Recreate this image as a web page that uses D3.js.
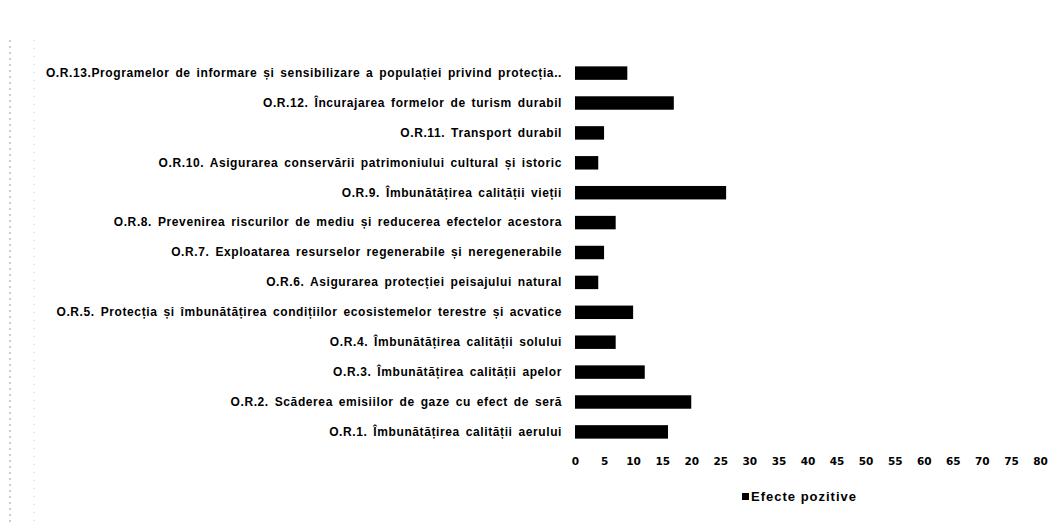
<!DOCTYPE html>
<html>
<head>
<meta charset="utf-8">
<script src="https://cdn.jsdelivr.net/npm/d3@7"></script>
<style>
  body { margin: 0; background: #fff; }
</style>
</head>
<body>
<div id="my_dataviz"></div>
<script>
var categories = [
    "O.R.13.Programelor de informare și sensibilizare a populației privind protecția..",
    "O.R.12. Încurajarea formelor de turism durabil",
    "O.R.11. Transport durabil",
    "O.R.10. Asigurarea conservării patrimoniului cultural și istoric",
    "O.R.9. Îmbunătățirea calității vieții",
    "O.R.8. Prevenirea riscurilor de mediu și reducerea efectelor acestora",
    "O.R.7. Exploatarea resurselor regenerabile și neregenerabile",
    "O.R.6. Asigurarea protecției peisajului natural",
    "O.R.5. Protecția și îmbunătățirea condițiilor ecosistemelor terestre și acvatice",
    "O.R.4. Îmbunătățirea calității solului",
    "O.R.3. Îmbunătățirea calității apelor",
    "O.R.2. Scăderea emisiilor de gaze cu efect de seră",
    "O.R.1. Îmbunătățirea calității aerului"
]
var values = [9, 17, 5, 4, 26, 7, 5, 4, 10, 7, 12, 20, 16]
var xTicks = d3.range(0, 81, 5)
var seriesName = "Efecte pozitive"

function plot(){
    document.getElementById("my_dataviz").innerHTML = '';

    var W = 1064, H = 522
    var margin = {top: 58, right: 24, bottom: 75, left: 575}
    var width = W - margin.left - margin.right,
        height = H - margin.top - margin.bottom

    var root = d3.select("#my_dataviz")
        .append("svg")
            .attr("width", W)
            .attr("height", H)

    // faint scan borders on the left
    root.append("line")
        .attr("x1", 10).attr("x2", 10).attr("y1", 40).attr("y2", H)
        .attr("stroke", "#999").attr("stroke-width", 1)
        .attr("stroke-dasharray", "2,4")
    root.append("line")
        .attr("x1", 34).attr("x2", 34).attr("y1", 40).attr("y2", H)
        .attr("stroke", "#ccc").attr("stroke-width", 1)
        .attr("stroke-dasharray", "1,7")

    var svg = root.append("g")
        .attr("transform", "translate(" + margin.left + "," + margin.top + ")")

    var xScale = d3.scaleLinear()
        .domain([0, 80])
        .range([0, 465])

    var yScale = d3.scaleBand()
        .domain(categories)
        .range([0, height])
        .paddingInner(0.55)
        .paddingOuter(0.28)

    // x axis, labels only
    var xAxis = svg.append("g")
        .attr("transform", "translate(0," + height + ")")
        .call(d3.axisBottom(xScale).tickValues(xTicks).tickSize(0).tickPadding(11))
    xAxis.select(".domain").remove()
    xAxis.selectAll("text")
        .attr("font-family", "DejaVu Sans")
        .attr("font-weight", "bold")
        .attr("font-size", "10.5px")
        .attr("fill", "#000")

    // y axis, labels only
    var yAxis = svg.append("g")
        .call(d3.axisLeft(yScale).tickSize(0).tickPadding(13))
    yAxis.select(".domain").remove()
    yAxis.selectAll("text")
        .attr("font-family", "Liberation Sans, Arial, sans-serif")
        .attr("font-weight", "bold")
        .attr("font-size", "12px")
        .attr("letter-spacing", "0.6px")
        .attr("word-spacing", "2px")
        .attr("fill", "#000")

    // bars
    svg.selectAll("rect.bar")
        .data(values)
        .enter()
            .append("rect")
                .attr("class", "bar")
                .attr("x", xScale(0))
                .attr("y", function(d, i) { return yScale(categories[i]) })
                .attr("width", function(d) { return xScale(d) - xScale(0) })
                .attr("height", yScale.bandwidth())
                .attr("fill", "#000")

    // legend
    var legend = root.append("g")
        .attr("transform", "translate(742,500)")
    legend.append("rect")
        .attr("x", 0).attr("y", -7)
        .attr("width", 7).attr("height", 7)
        .attr("fill", "#000")
    legend.append("text")
        .attr("x", 9).attr("y", 1)
        .attr("font-family", "Liberation Sans, Arial, sans-serif")
        .attr("font-weight", "bold")
        .attr("font-size", "13px")
        .attr("letter-spacing", "1px")
        .text(seriesName)
}

window.addEventListener("load", plot);
</script>
</body>
</html>
